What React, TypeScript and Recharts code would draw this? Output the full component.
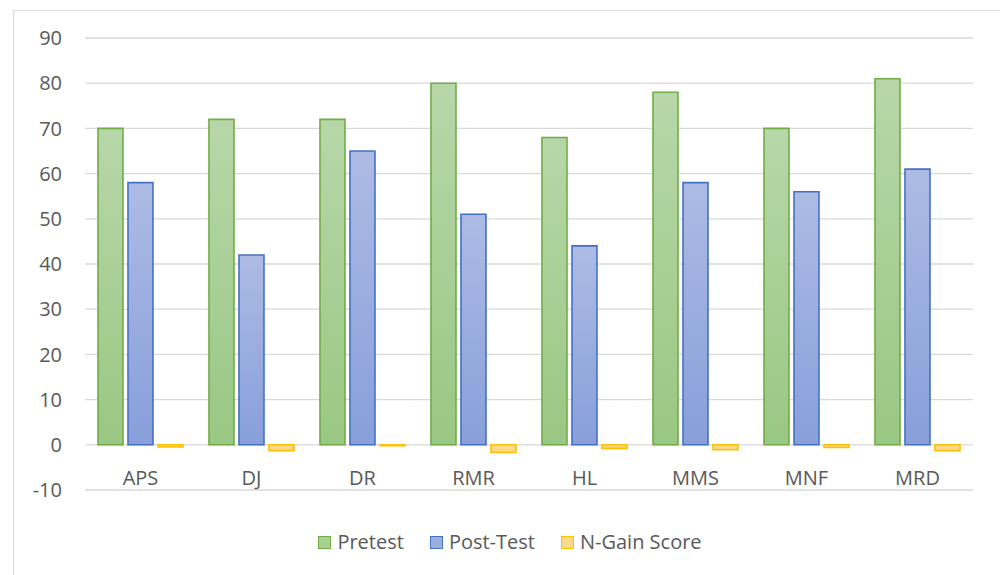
import React from 'react';
import { Bar, BarChart, CartesianGrid, XAxis, YAxis } from 'recharts';

const categories = ['APS', 'DJ', 'DR', 'RMR', 'HL', 'MMS', 'MNF', 'MRD'];
const pretest = [70, 72, 72, 80, 68, 78, 70, 81];
const postTest = [58, 42, 65, 51, 44, 58, 56, 61];
const nGain = [-0.5, -1.3, -0.2, -1.7, -0.8, -1.1, -0.6, -1.3];
const yTicks = [-10, 0, 10, 20, 30, 40, 50, 60, 70, 80, 90];

const data = categories.map((name, i) => ({
  name,
  pretest: pretest[i],
  postTest: postTest[i],
  nGain: nGain[i],
}));

const font = '"Open Sans", sans-serif';
const textColor = '#595959';

const legendItems = [
  { label: 'Pretest', fill: '#a9d18e', stroke: '#70ad47' },
  { label: 'Post-Test', fill: '#9dafe0', stroke: '#4472c4' },
  { label: 'N-Gain Score', fill: '#ffd98a', stroke: '#ffc000' },
];

const XTick = (props: any) => {
  const { x, y, payload } = props;
  return (
    <text
      x={x}
      y={y - 13}
      textAnchor="middle"
      dominantBaseline="central"
      fill={textColor}
      fontSize={20}
      fontFamily={font}
    >
      {payload.value}
    </text>
  );
};

export default function App() {
  return (
    <div style={{ paddingTop: 2, paddingLeft: 5 }}>
      <div
        style={{
          position: 'relative',
          width: 992,
          height: 568,
          border: '1px solid #d9d9d9',
          background: '#fff',
        }}
      >
        <BarChart
          width={992}
          height={568}
          data={data}
          margin={{ top: 27, right: 33, left: 0, bottom: 59 }}
          barCategoryGap="11.7%"
          barGap={5}
        >
          <defs>
            <linearGradient id="gGreen" x1="0" y1="0" x2="0" y2="1">
              <stop offset="0%" stopColor="#b7d7a9" />
              <stop offset="100%" stopColor="#9ac783" />
            </linearGradient>
            <linearGradient id="gBlue" x1="0" y1="0" x2="0" y2="1">
              <stop offset="0%" stopColor="#adbbe4" />
              <stop offset="100%" stopColor="#889fdb" />
            </linearGradient>
            <linearGradient id="gYellow" x1="0" y1="0" x2="0" y2="1">
              <stop offset="0%" stopColor="#ffdc94" />
              <stop offset="100%" stopColor="#ffd47e" />
            </linearGradient>
          </defs>
          <CartesianGrid vertical={false} stroke="#d9d9d9" strokeWidth={1.3} />
          <XAxis
            dataKey="name"
            axisLine={false}
            tickLine={false}
            tickSize={0}
            tickMargin={0}
            height={30}
            tick={<XTick />}
            interval={0}
          />
          <YAxis
            width={71}
            domain={[-10, 90]}
            ticks={yTicks}
            axisLine={false}
            tickLine={false}
            tickSize={0}
            tickMargin={23}
            tick={{ fill: textColor, fontSize: 20, fontFamily: font }}
          />
          <Bar
            dataKey="pretest"
            fill="url(#gGreen)"
            stroke="#70ad47"
            strokeWidth={1.6}
            isAnimationActive={false}
          />
          <Bar
            dataKey="postTest"
            fill="url(#gBlue)"
            stroke="#4472c4"
            strokeWidth={1.6}
            isAnimationActive={false}
          />
          <Bar
            dataKey="nGain"
            fill="url(#gYellow)"
            stroke="#ffc000"
            strokeWidth={1.6}
            isAnimationActive={false}
          />
        </BarChart>
        <div
          style={{
            position: 'absolute',
            left: 0,
            top: 517,
            width: 992,
            display: 'flex',
            justifyContent: 'center',
            alignItems: 'center',
            gap: 26,
            fontFamily: font,
            fontSize: 20,
            color: textColor,
            lineHeight: '28px',
          }}
        >
          {legendItems.map((item) => (
            <div
              key={item.label}
              style={{ display: 'flex', alignItems: 'center', gap: 6 }}
            >
              <span
                style={{
                  display: 'inline-block',
                  width: 11,
                  height: 11,
                  background: item.fill,
                  border: `1.5px solid ${item.stroke}`,
                }}
              />
              <span>{item.label}</span>
            </div>
          ))}
        </div>
      </div>
    </div>
  );
}
